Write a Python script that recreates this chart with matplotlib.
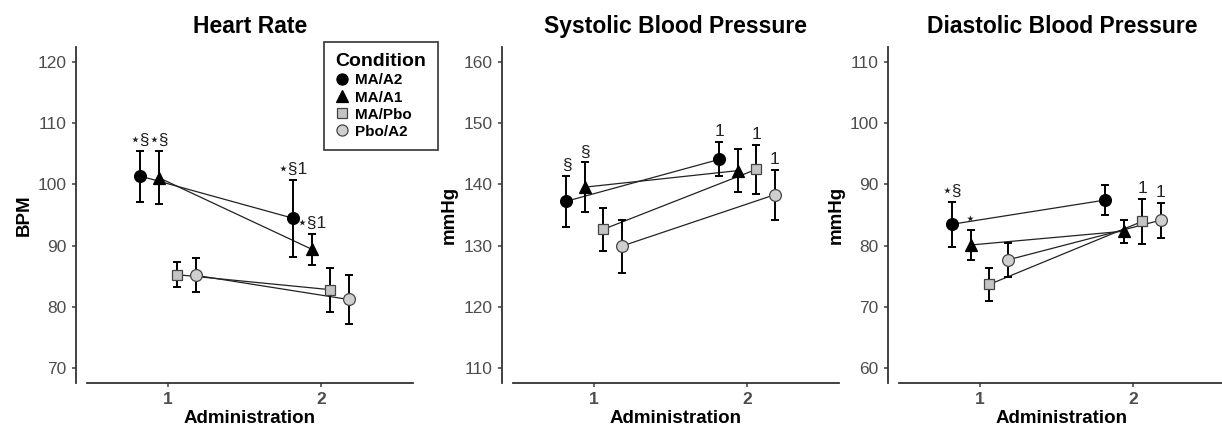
import matplotlib.pyplot as plt
from matplotlib.lines import Line2D

# Data (means and SE)
conditions = ['MA/A2', 'MA/A1', 'MA/Pbo', 'Pbo/A2']
administration = [1, 2]

hr_mean_1 = [101.35, 101.1, 85.25, 85.15]
hr_mean_2 = [94.45, 89.4, 82.8, 81.2]
hr_se_1 = [4.15, 4.35, 2.05, 2.75]
hr_se_2 = [6.25, 2.5, 3.6, 4.0]
hr_note_1 = ['⋆§', '⋆§', '', '']
hr_note_2 = ['⋆§1', '⋆§1', '', '']

sbp_mean_1 = [137.25, 139.55, 132.65, 129.9]
sbp_mean_2 = [144.1, 142.25, 142.45, 138.3]
sbp_se_1 = [4.15, 4.05, 3.55, 4.3]
sbp_se_2 = [2.8, 3.55, 4.05, 4.1]
sbp_note_1 = ['§', '§', '', '']
sbp_note_2 = ['1', '', '1', '1']

dbp_mean_1 = [83.5, 80.1, 73.65, 77.65]
dbp_mean_2 = [87.45, 82.35, 83.95, 84.15]
dbp_se_1 = [3.7, 2.4, 2.65, 2.75]
dbp_se_2 = [2.45, 1.85, 3.65, 2.85]
dbp_note_1 = ['⋆§', '⋆', '', '']
dbp_note_2 = ['', '', '1', '1']

# style
dodge = [-0.18, -0.06, 0.06, 0.18]
markers = ['o', '^', 's', 'o']
msizes = [8.5, 8.5, 7.5, 8.5]
fills = ['black', 'black', '#C4C4C4', '#CFCFCF']
edges = ['black', 'black', '#444444', '#444444']

plt.rcParams['font.family'] = ['Liberation Sans', 'DejaVu Sans']

W, H = 1222, 434
fig = plt.figure(figsize=(W / 100, H / 100), dpi=100)

panels = [
    ('Heart Rate', 'BPM', (67.55, 122.45), [70, 80, 90, 100, 110, 120],
     hr_mean_1, hr_mean_2, hr_se_1, hr_se_2, hr_note_1, hr_note_2, 168),
    ('Systolic Blood Pressure', 'mmHg', (107.55, 162.45), [110, 120, 130, 140, 150, 160],
     sbp_mean_1, sbp_mean_2, sbp_se_1, sbp_se_2, sbp_note_1, sbp_note_2, 594),
    ('Diastolic Blood Pressure', 'mmHg', (57.55, 112.45), [60, 70, 80, 90, 100, 110],
     dbp_mean_1, dbp_mean_2, dbp_se_1, dbp_se_2, dbp_note_1, dbp_note_2, 980),
]

for (title, ylab, ylim, yticks, m1, m2, s1, s2, n1, n2, x1px) in panels:
    left = (x1px - 81) / W
    ax = fig.add_axes([left, 51 / H, 326 / W, 336 / H])
    ax.set_xlim(1 - 81 / 153, 1 + 245 / 153)
    ax.set_ylim(*ylim)

    for i, cond in enumerate(conditions):
        xs = [a + dodge[i] for a in administration]
        ys = [m1[i], m2[i]]
        ss = [s1[i], s2[i]]
        ax.plot(xs, ys, color='#222222', lw=0.9, zorder=2)
        ax.errorbar(xs, ys, yerr=ss, fmt='none', ecolor='black', elinewidth=1.4,
                    capsize=3, capthick=1.4, zorder=3)
        ax.plot(xs, ys, linestyle='none', marker=markers[i], ms=msizes[i],
                mfc=fills[i], mec=edges[i], mew=0.9, zorder=4)
        for x, y, s, note in zip(xs, ys, ss, [n1[i], n2[i]]):
            if note:
                ax.annotate(note, (x, y + s), xytext=(0, 2), textcoords='offset points',
                            ha='center', va='bottom', fontsize=12.5, color='#222222')

    ax.set_title(title, fontsize=16.5, fontweight='bold', pad=10)
    ax.set_ylabel(ylab, fontsize=13.5, fontweight='bold', labelpad=4)
    ax.set_xlabel('Administration', fontsize=13.5, fontweight='bold', labelpad=2)
    ax.set_xticks(administration)
    ax.set_yticks(yticks)
    ax.tick_params(axis='both', labelsize=12.5, colors='#4D4D4D', length=3, width=1.2)
    for lab in ax.get_xticklabels() + ax.get_yticklabels():
        lab.set_fontweight('bold')
    ax.spines['top'].set_visible(False)
    ax.spines['right'].set_visible(False)
    ax.spines['left'].set_position(('outward', 8))
    for sp in ('left', 'bottom'):
        ax.spines[sp].set_linewidth(1.3)
        ax.spines[sp].set_color('#333333')

    if title == 'Heart Rate':
        handles = [Line2D([], [], linestyle='none', marker=markers[i], ms=msizes[i] - 0.5,
                          mfc=fills[i], mec=edges[i], mew=0.9) for i in range(4)]
        leg = ax.legend(handles, conditions, title='Condition', loc='upper left',
                        bbox_to_anchor=(237 / 326, 1.015), frameon=True, fancybox=False,
                        edgecolor='black', fontsize=11, title_fontsize=14,
                        handlelength=0.8, handletextpad=0.5, labelspacing=0.2,
                        borderpad=0.75, borderaxespad=0, alignment='left')
        leg.get_frame().set_linewidth(1.2)
        leg.get_title().set_fontweight('bold')
        for t in leg.get_texts():
            t.set_fontweight('bold')

fig.savefig('out.png', dpi=100)
